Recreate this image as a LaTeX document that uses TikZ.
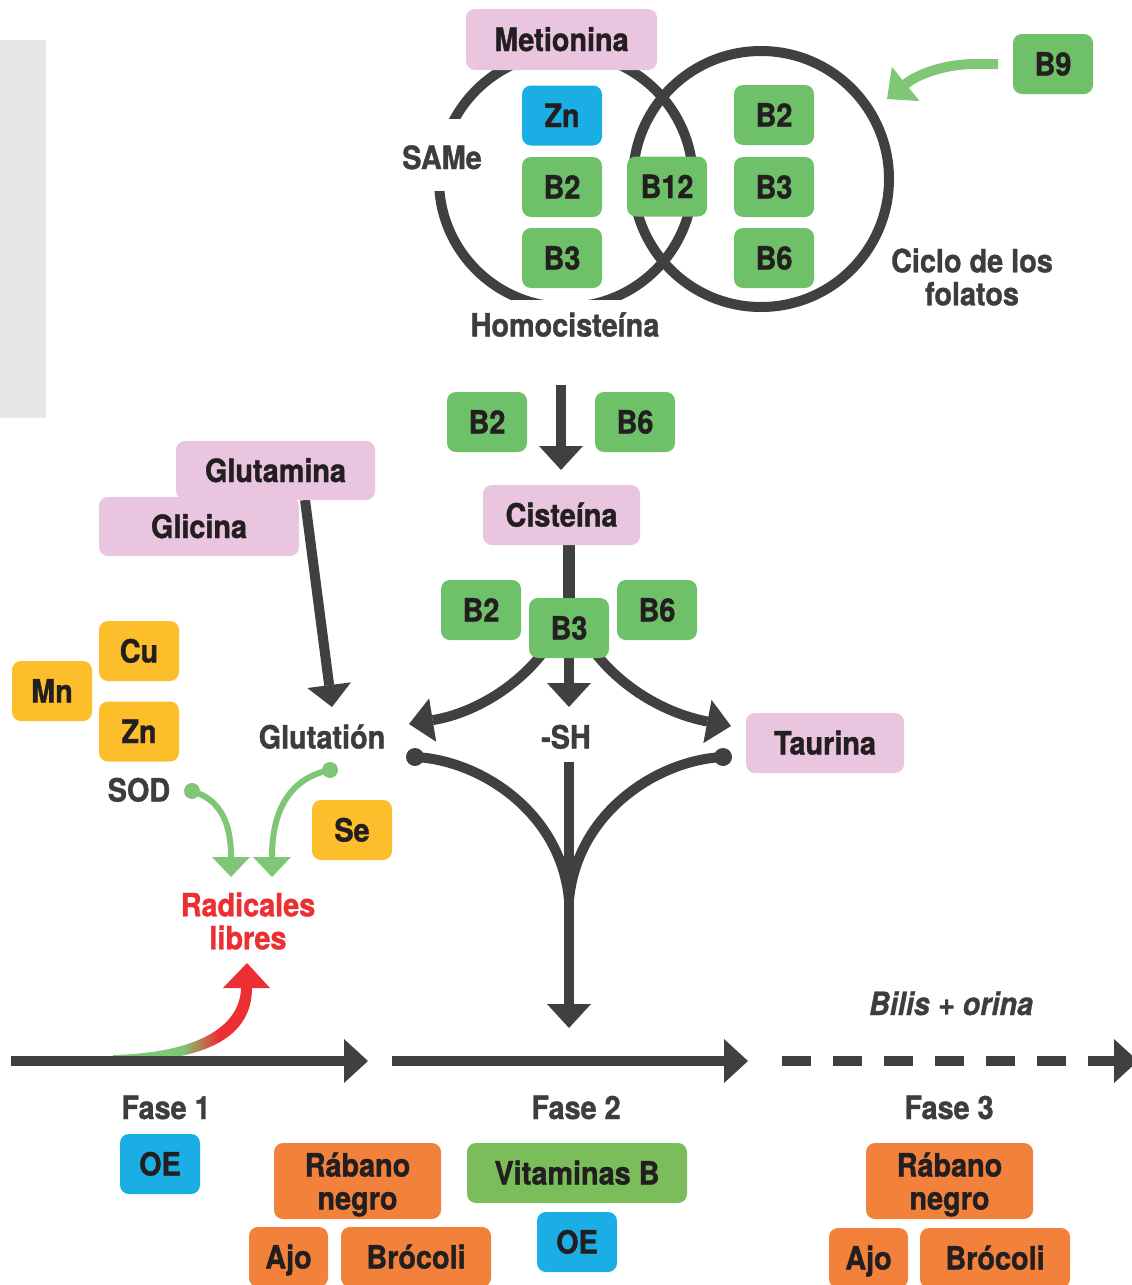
\documentclass[tikz,border=0pt]{standalone}
\usepackage{fontspec}
\setmainfont{TeX Gyre Heros}[FakeStretch=0.9, BoldFeatures={FakeBold=1.2}, BoldItalicFeatures={FakeBold=0.8}]
\usetikzlibrary{arrows.meta,calc}
\definecolor{ln}{HTML}{404040}
\definecolor{txt}{HTML}{231F20}
\definecolor{lbl}{HTML}{3D3D3D}
\definecolor{pk}{HTML}{E9C5DF}
\definecolor{gn}{HTML}{6FC169}
\definecolor{gnv}{HTML}{7BBD5A}
\definecolor{lg}{HTML}{7FC777}
\definecolor{bl}{HTML}{1BAEE5}
\definecolor{yl}{HTML}{FDBE2B}
\definecolor{org}{HTML}{F2823B}
\definecolor{rd}{HTML}{EC2F32}
\definecolor{gry}{HTML}{E6E7E8}
\pgfdeclarehorizontalshading{grred}{100bp}{color(0bp)=(lg); color(50bp)=(lg); color(63bp)=(rd); color(100bp)=(rd)}
\pgfdeclarelayer{bg}
\pgfsetlayers{bg,main}
\begin{document}
\begin{tikzpicture}[x=1pt,y=-1pt,
  every node/.style={font=\fontsize{32}{33}\selectfont\bfseries},
  bx/.style={rounded corners=9pt, inner sep=0pt, minimum width=80pt, minimum height=60pt, text=txt, text height=23pt, text depth=0pt},
  bxtwo/.style={rounded corners=9pt, inner sep=0pt, minimum width=167pt, minimum height=76pt, text=txt, align=center, fill=org, text height=57pt, text depth=0pt},
  gbx/.style={bx, fill=gn}, bbx/.style={bx, fill=bl}, ybx/.style={bx, fill=yl},
  pbx/.style={bx, fill=pk}, obx/.style={bx, fill=org},
  lab/.style={text=lbl, inner sep=0pt, text height=23pt, text depth=0pt},
  labtwo/.style={text=lbl, inner sep=0pt, align=center},
  heavy/.style={draw=ln, line width=10pt},
  tipA/.style={-{Triangle[width=44pt,length=24pt,line width=0pt]}},
  lgarrow/.style={draw=lg, line width=6pt, -{Triangle[width=38pt,length=20pt,line width=0pt]}},
  dotn/.style={circle, fill=ln, inner sep=0pt, minimum size=18pt},
  gdot/.style={circle, fill=lg, inner sep=0pt, minimum size=16pt},
]
\useasboundingbox (0,0) rectangle (1132,1285);

\begin{pgfonlayer}{bg}
\fill[gry] (0,40) rectangle (46,418);
\draw[ln, line width=10pt] (566,180) circle[radius=127];
\draw[ln, line width=10pt] (761,179) circle[radius=128];
\fill[white] (398,119) rectangle (486,191);
\fill[white] (455,300) rectangle (705,352);
\end{pgfonlayer}

% top cycle
\node[pbx, minimum width=191pt, minimum height=61pt] (meti) at (561.5,39.5) {Metionina};
\node[bbx] (zna) at (562,115.5) {Zn};
\node[gbx] (b2a) at (562,187) {B2};
\node[gbx] (b3a) at (562,258) {B3};
\node[gbx] (b12) at (667,186.5) {B12};
\node[gbx] (b2b) at (774,115) {B2};
\node[gbx] (b3b) at (774,187) {B3};
\node[gbx] (b6b) at (774,258) {B6};
\node[gbx] (b9) at (1053,64) {B9};
\node[lab] (same) at (442,157.5) {SAMe};
\node[lab] (homo) at (565,325) {Homocisteína};
\node[labtwo] (ciclo) at (972,277) {Ciclo de los\\folatos};

% middle
\node[gbx] (b2c) at (487,422) {B2};
\node[gbx] (b6c) at (635,422) {B6};
\node[pbx, minimum width=157pt] (cis) at (561.5,515) {Cisteína};
\node[gbx] (b2d) at (481,610) {B2};
\node[gbx] (b6d) at (657,610) {B6};
\node[gbx] (b3d) at (569,628) {B3};
\node[lab] (glu) at (322,737) {Glutatión};
\node[lab] (sh) at (566,737) {-SH};
\node[pbx, minimum width=158pt] (tau) at (825,743) {Taurina};
\node[pbx, minimum width=199pt, minimum height=59pt] (glut) at (275.5,470.5) {Glutamina};
\node[pbx, minimum width=200pt, minimum height=59pt] (glic) at (199,526.5) {Glicina};
\node[ybx] (cu) at (139,651) {Cu};
\node[ybx] (mn) at (52,691) {Mn};
\node[ybx] (znb) at (139,731.5) {Zn};
\node[ybx] (se) at (352,830) {Se};
\node[lab] (sod) at (139,790) {SOD};
\node[text=rd, align=center, inner sep=0pt] (rad) at (248,921) {Radicales\\libres};
\node[gdot] (gd1) at (192,791) {};
\node[gdot] (gd2) at (330,770) {};
\node[dotn] (dl) at (415,757) {};
\node[dotn] (dr) at (723,757) {};

% bottom
\node[lab] (bilis) at (951,1003.5) {\itshape Bilis + orina};
\node[lab] (fase1) at (166,1107.5) {Fase 1};
\node[lab] (fase2) at (576,1107.5) {Fase 2};
\node[lab] (fase3) at (949,1107.5) {Fase 3};
\node[bbx] (oea) at (160,1164) {OE};
\node[bxtwo] (raba) at (357.5,1181) {Rábano\\negro};
\node[obx, minimum width=79pt] (ajoa) at (288.5,1257) {Ajo};
\node[obx, minimum width=150pt] (broa) at (416,1257) {Brócoli};
\node[bx, fill=gnv, minimum width=220pt] (vit) at (577,1173) {Vitaminas B};
\node[bbx] (oeb) at (577,1242) {OE};
\node[bxtwo] (rabb) at (949.5,1181) {Rábano\\negro};
\node[obx, minimum width=79pt] (ajob) at (868.5,1258) {Ajo};
\node[obx, minimum width=150pt] (brob) at (995,1258) {Brócoli};

% coordinates
\coordinate (b9s) at (998,64);
\coordinate (b9t) at (887,99);
\coordinate (c0) at (561,385);
\coordinate (ct) at (561,470);
\coordinate (lt) at (409,724);
\coordinate (rt) at (731,726);
\coordinate (gs) at (305,500);
\coordinate (gt) at (332,707);
\coordinate (m) at (569,900);
\coordinate (shs) at (569,762);
\coordinate (sht) at (569,1028);
\coordinate (r1) at (231,877);
\coordinate (r2) at (272,877);
\coordinate (p1s) at (11,1061);
\coordinate (p1e) at (368,1061);
\coordinate (p2s) at (392,1061);
\coordinate (p2e) at (748,1061);
\coordinate (p3s) at (782,1061);
\coordinate (p3e) at (1138,1061);

\begin{pgfonlayer}{bg}
% B9 arrow
\draw[draw=lg, line width=10pt, -{Triangle[width=44pt,length=24pt,line width=0pt]}]
  (b9s) -- (975,64) .. controls (945,64) and (918,74) .. (b9t);
% to cisteina
\draw[heavy, tipA] (c0) -- (ct);
\draw[ln, line width=12pt] ($(cis.south)+(7.5,0)$) -- (b3d.center);
% from B3
\draw[heavy, tipA] (b3d.center) -- ($(b3d.center)+(0,79)$);
\draw[heavy, tipA] ($(b3d.center)+(-24,22)$) .. controls (515,690) and (470,714) .. (lt);
\draw[heavy, tipA] ($(b3d.center)+(24,22)$) .. controls (623,690) and (668,714) .. (rt);
% glutamina
\draw[ln, line width=10pt, -{Triangle[width=44pt,length=22pt,line width=0pt]}] (gs) -- (gt);
% lower fork
\draw[heavy] (dl.center) .. controls (480,760) and (561,812) .. (m);
\draw[heavy] (dr.center) .. controls (658,760) and (577,812) .. (m);
\draw[heavy, tipA] (shs) -- (sht);
% green arrows to radicales
\draw[lgarrow] (gd1.center) .. controls (222,800) and (231,825) .. (r1);
\draw[lgarrow] (gd2.center) .. controls (290,778) and (272,810) .. (r2);
% gradient arrow
\shade[shading=grred] (113,1055) .. controls (195,1053) and (240,1028) .. (241,988)
  -- (252,988) .. controls (252,1035) and (210,1062) .. (113,1062) -- cycle;
\fill[rd] (223,988) -- (247,963) -- (270,988) -- cycle;
% phase lines
\draw[heavy, tipA] (p1s) -- (p1e);
\draw[heavy, tipA] (p2s) -- (p2e);
\draw[heavy, tipA, dash pattern=on 29pt off 22pt] (p3s) -- (p3e);
\end{pgfonlayer}
\end{tikzpicture}
\end{document}
